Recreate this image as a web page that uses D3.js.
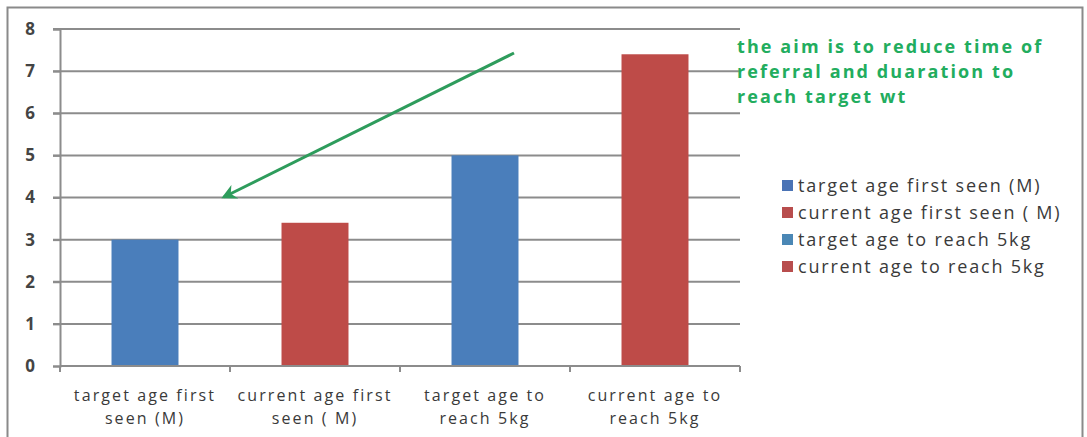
<!DOCTYPE html>
<html>
<head>
<meta charset="utf-8">
<script src="https://cdn.jsdelivr.net/npm/d3@7"></script>
<style>
  body { margin: 0; background: #fff; }
  text { font-family: "Open Sans", "Liberation Sans", sans-serif; fill: #3a3a3a; }
</style>
</head>
<body>
<script>
// chart data
var categories = ["target age first seen (M)", "current age first seen ( M)", "target age to reach 5kg", "current age to reach 5kg"];
var catLines = [["target age first", "seen (M)"], ["current age first", "seen ( M)"], ["target age to", "reach 5kg"], ["current age to", "reach 5kg"]];
var values = [3, 3.4, 5, 7.4];
var yTicks = [0, 1, 2, 3, 4, 5, 6, 7, 8];
var barColors = ["#4a7ebb", "#be4b48", "#4a7ebb", "#be4b48"];
var legendColors = ["#4a73b5", "#b84d4d", "#4a87b5", "#b84d4d"];
var noteLines = ["the aim is to reduce time of", "referral and duaration to", "reach target wt"];

var width = 1087, height = 437;

var svg = d3.select("body").append("svg")
    .attr("width", width)
    .attr("height", height);

// outer frame
svg.append("path")
    .attr("d", "M7.5,437 V7.5 H1082.5 V437")
    .attr("fill", "none")
    .attr("stroke", "#8a8a8a")
    .attr("stroke-width", 2);

var x = d3.scaleBand()
    .domain(categories)
    .range([60, 740])
    .paddingInner(0.606)
    .paddingOuter(0.303);

var y = d3.scaleLinear()
    .domain([0, 8])
    .range([366, 29]);

// gridlines
svg.append("g").selectAll("line")
    .data(yTicks.filter(function(d){ return d > 0; }))
    .enter().append("line")
    .attr("x1", 53).attr("x2", 740)
    .attr("y1", function(d){ return y(d); })
    .attr("y2", function(d){ return y(d); })
    .attr("stroke", "#8c8c8c")
    .attr("stroke-width", 2);

// y axis
var yAxis = svg.append("g")
    .attr("transform", "translate(60,0)")
    .call(d3.axisLeft(y).tickValues(yTicks).tickSize(7).tickPadding(0));
yAxis.select(".domain").attr("stroke", "#8c8c8c").attr("stroke-width", 2);
yAxis.selectAll(".tick line").attr("stroke", "#8c8c8c").attr("stroke-width", 2);
yAxis.selectAll(".tick text")
    .attr("x", -30)
    .attr("text-anchor", "middle")
    .style("font-size", "17px")
    .style("font-weight", "bold")
    .style("fill", "#444");

// bars
svg.append("g").selectAll("rect")
    .data(values)
    .enter().append("rect")
    .attr("x", function(d, i){ return x(categories[i]); })
    .attr("width", x.bandwidth())
    .attr("y", function(d){ return y(d); })
    .attr("height", function(d){ return y(0) - y(d); })
    .attr("fill", function(d, i){ return barColors[i]; });

// x axis
var step = x.step();
var boundaries = [60].concat(categories.map(function(c){ return x(c) - x.paddingOuter() * step + step; }));
var xAxis = svg.append("g");
xAxis.append("line")
    .attr("x1", 60).attr("x2", 740)
    .attr("y1", y(0)).attr("y2", y(0))
    .attr("stroke", "#8c8c8c").attr("stroke-width", 2);
xAxis.selectAll(".xt")
    .data(boundaries)
    .enter().append("line")
    .attr("x1", function(d){ return d; }).attr("x2", function(d){ return d; })
    .attr("y1", y(0)).attr("y2", y(0) + 6)
    .attr("stroke", "#8c8c8c").attr("stroke-width", 2);

// category labels, two lines each
categories.forEach(function(c, i){
    catLines[i].forEach(function(line, j){
        xAxis.append("text")
            .attr("x", x(c) + x.bandwidth() / 2)
            .attr("y", 401 + j * 23)
            .attr("text-anchor", "middle")
            .style("font-size", "16px")
            .style("letter-spacing", "2.1px")
            .text(line);
    });
});

// legend
var legend = svg.append("g").attr("transform", "translate(782,185)");
var items = legend.selectAll("g")
    .data(categories)
    .enter().append("g")
    .attr("transform", function(d, i){ return "translate(0," + (i * 27) + ")"; });
items.append("rect")
    .attr("x", 0).attr("y", -5)
    .attr("width", 11).attr("height", 11)
    .attr("fill", function(d, i){ return legendColors[i]; });
items.append("text")
    .attr("x", 16).attr("y", 7)
    .style("font-size", "18px")
    .style("letter-spacing", "1.8px")
    .text(function(d){ return d; });

// annotation arrow
var defs = svg.append("defs");
defs.append("marker")
    .attr("id", "arrowhead")
    .attr("viewBox", "0 0 10 10")
    .attr("refX", 8).attr("refY", 5)
    .attr("markerWidth", 5).attr("markerHeight", 5)
    .attr("orient", "auto")
    .append("path")
    .attr("d", "M0,0 L10,5 L0,10 L3,5 Z")
    .attr("fill", "#2e9c5c");
svg.append("line")
    .attr("x1", 514).attr("y1", 53)
    .attr("x2", 224).attr("y2", 197)
    .attr("stroke", "#2e9c5c")
    .attr("stroke-width", 3)
    .attr("marker-end", "url(#arrowhead)");

// annotation text
svg.append("text")
    .attr("x", 737)
    .style("font-size", "18px")
    .style("font-weight", "bold")
    .style("letter-spacing", "2.1px")
    .selectAll("tspan")
    .data(noteLines)
    .enter().append("tspan")
    .attr("x", 737)
    .attr("y", function(d, i){ return 53 + i * 25; })
    .style("fill", "#22ad5e")
    .text(function(d){ return d; });
</script>
</body>
</html>
